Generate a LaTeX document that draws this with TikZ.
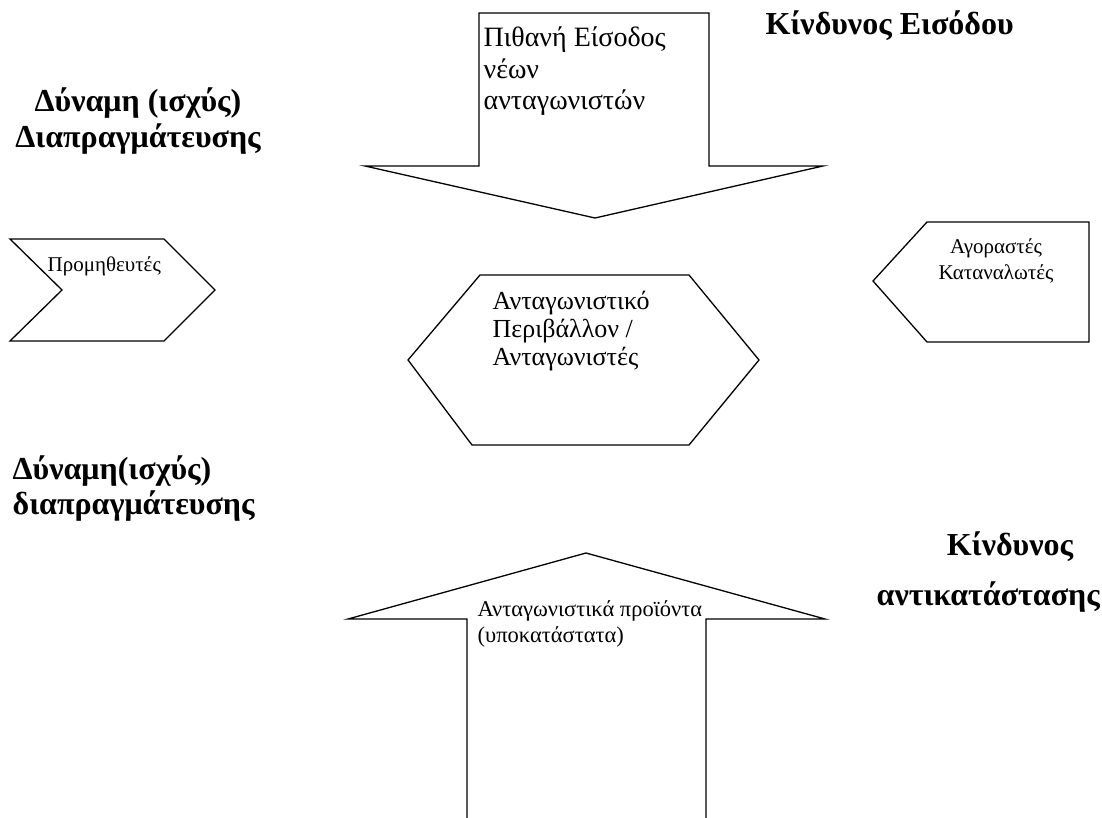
\documentclass[tikz,border=0pt]{standalone}
\usepackage{fontspec}
\setmainfont{Liberation Serif}
\usetikzlibrary{positioning}

\begin{document}
\begin{tikzpicture}[x=1pt,y=-1pt,line width=1.3pt,line join=miter,
	shp/.style={draw,black},
	txt/.style={inner sep=0pt,anchor=base west,align=left},
	big/.style={inner sep=0pt,font=\bfseries\fontsize{32}{36}\selectfont}]

\useasboundingbox (0,0) rectangle (1102,818);

% entry arrow (top)
\draw[shp] (479,13) -- (709,13) -- (709,166) -- (823,166) -- (595,218)
	-- (365,166) -- (479,166) -- cycle;
\node[txt,font=\fontsize{28}{31.5}\selectfont] (entry) at (483,110)
	{Πιθανή Είσοδος\\νέων\\ανταγωνιστών};

% suppliers
\draw[shp] (10,239) -- (164,239) -- (215,290) -- (164,341) -- (10,341)
	-- (62,290) -- cycle;
\node[txt,font=\fontsize{21}{23}\selectfont] (suppl) at (47,271) {Προμηθευτές};

% buyers
\draw[shp] (927,222) -- (1089,222) -- (1089,342) -- (927,342) -- (873,281) -- cycle;
\node[inner sep=0pt,anchor=base,align=center,font=\fontsize{21}{25}\selectfont]
	(buyers) at (996,279) {Αγοραστές\\Καταναλωτές};

% competitors
\draw[shp] (480,275) -- (689,275) -- (759,360) -- (689,445) -- (472,445)
	-- (408,360) -- cycle;
\node[txt,font=\fontsize{26}{28}\selectfont] (comp) at (492,365)
	{Ανταγωνιστικό\\Περιβάλλον /\\Ανταγωνιστές};

% substitutes arrow (bottom)
\draw[shp] (467,818) -- (467,619) -- (348,619) -- (586,553) -- (825,619)
	-- (706,619) -- (706,818);
\node[txt,font=\fontsize{22.5}{26}\selectfont] (subst) at (477,642)
	{Ανταγωνιστικά προϊόντα\\(υποκατάστατα)};

% labels
\node[big,anchor=base,align=center] (powtop) at (138,148)
	{Δύναμη (ισχύς)\\Διαπραγμάτευσης};
\node[big,anchor=base west,align=left,font=\bfseries\fontsize{32}{35}\selectfont]
	(powbot) at (12,514) {Δύναμη(ισχύς)\\διαπραγμάτευσης};
\node[big,anchor=base west] (riskin) at (765,35) {Κίνδυνος Εισόδου};
\node[big,anchor=base] (risksub) at (1010,555) {Κίνδυνος};
\node[big,anchor=base west] (risksub2) at (876,605) {αντικατάστασης};

\end{tikzpicture}
\end{document}
